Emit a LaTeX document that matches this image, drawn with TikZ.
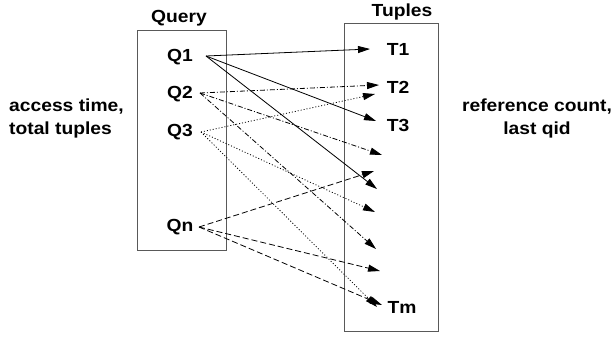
\documentclass[tikz,border=0pt]{standalone}
\usepackage{fontspec}
\usepackage{graphicx}
\setmainfont{Liberation Sans}
\usetikzlibrary{arrows.meta}
\newcommand{\wtxt}[1]{\scalebox{1.1}[1]{#1}}
\begin{document}
\begin{tikzpicture}[x=1pt,y=-1pt,
  lbl/.style={inner sep=0pt, font=\fontsize{17.5}{22.5}\selectfont\bfseries},
  frame/.style={draw=black!65, line width=0.9pt, inner sep=0pt},
  link/.style={line width=0.8pt, -{Triangle[length=12pt,width=7pt]}},
  dashdot/.style={link, dash pattern=on 5pt off 2pt on 1pt off 2pt},
  dots/.style={link, dash pattern=on 1pt off 2pt},
  dashes/.style={link, dash pattern=on 6pt off 3pt}]
\useasboundingbox (0,0) rectangle (613,337);

% boxes and titles
\node[frame, minimum width=89pt, minimum height=220pt] (qbox) at (181.5,140) {};
\node[frame, minimum width=94pt, minimum height=308pt] (tbox) at (391,177) {};
\node[lbl] (qtitle) at (179,18) {\wtxt{Query}};
\node[lbl] (ttitle) at (402,12) {\wtxt{Tuples}};

% side notes
\node[lbl, anchor=west, align=left] (qnote) at (9,118.5) {\wtxt{access time,}\\\wtxt{total tuples}};
\node[lbl, align=center] (tnote) at (537,118.5) {\wtxt{reference count,}\\\wtxt{last qid}};

% queries
\node[lbl] (Q1) at (180,57) {\wtxt{Q1}};
\node[lbl] (Q2) at (180,94) {\wtxt{Q2}};
\node[lbl] (Q3) at (180,132) {\wtxt{Q3}};
\node[lbl] (Qn) at (180,227) {\wtxt{Qn}};

% tuples
\node[lbl] (T1) at (398,49) {\wtxt{T1}};
\node[lbl] (T2) at (398,87) {\wtxt{T2}};
\node[lbl] (T3) at (398,125) {\wtxt{T3}};
\node[lbl] (Tm) at (402,307) {\wtxt{Tm}};

% connector end points
\coordinate (s1) at (206,56);
\coordinate (s2) at (200,93);
\coordinate (s3) at (201,132);
\coordinate (sn) at (199,227);
\coordinate (e1) at (370,49);
\coordinate (e2) at (379,85);
\coordinate (e2b) at (375,94);
\coordinate (e3) at (376,121);
\coordinate (ra) at (382,155);
\coordinate (rb) at (374,171);
\coordinate (rc) at (377,189);
\coordinate (rd) at (375,212);
\coordinate (re) at (376,249);
\coordinate (rf) at (380,271);
\coordinate (em) at (382,305);
\coordinate (emb) at (377,307);

% Q1
\draw[link] (s1) -- (e1);
\draw[link] (s1) -- (e3);
\draw[link] (s1) -- (rc);
% Q2
\draw[dashdot] (s2) -- (e2);
\draw[dashdot] (s2) -- (ra);
\draw[dashdot] (s2) -- (re);
% Q3
\draw[dots] (s3) -- (e2b);
\draw[dots] (s3) -- (rd);
\draw[dots] (s3) -- (emb);
% Qn
\draw[dashes] (sn) -- (rb);
\draw[dashes] (sn) -- (rf);
\draw[dashes] (sn) -- (em);
\end{tikzpicture}
\end{document}
